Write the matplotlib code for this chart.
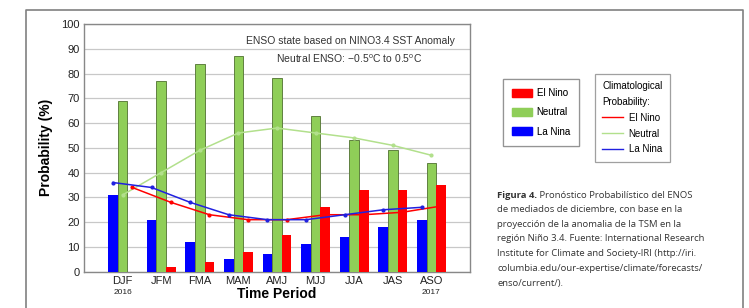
import numpy as np
import matplotlib
matplotlib.use("Agg")
import matplotlib.pyplot as plt
from matplotlib.patches import Patch
from matplotlib.lines import Line2D

plt.rcParams['font.family'] = ['Liberation Sans', 'DejaVu Sans']
plt.rcParams['mathtext.fontset'] = 'custom'
plt.rcParams['mathtext.rm'] = 'Liberation Sans'

# data
periods = ['DJF', 'JFM', 'FMA', 'MAM', 'AMJ', 'MJJ', 'JJA', 'JAS', 'ASO']
la_nina = [31, 21, 12, 5, 7, 11, 14, 18, 21]
neutral = [69, 77, 84, 87, 78, 63, 53, 49, 44]
el_nino = [0, 2, 4, 8, 15, 26, 33, 33, 35]

clim_la_nina = [36, 34, 28, 23, 21, 21, 23, 25, 26]
clim_neutral = [31, 40, 49, 56, 58, 56, 54, 51, 47]
clim_el_nino = [34, 28, 23, 21, 21, 23, 23, 24, 26.5]

caption_rest = ("de mediados de diciembre, con base en la\n"
                "proyección de la anomalia de la TSM en la\n"
                "región Niño 3.4. Fuente: International Research\n"
                "Institute for Climate and Society-IRI (http://iri.\n"
                "columbia.edu/our-expertise/climate/forecasts/\n"
                "enso/current/).")

red = '#ff0000'
green = '#8fce58'
blue = '#0000ff'

fig = plt.figure(figsize=(7.49, 3.08), dpi=100)
ax = fig.add_axes([84 / 749, 1 - 271.7 / 308, 386 / 749, 247.7 / 308])

x = np.arange(len(periods))
w = 0.25
ax.bar(x - w, la_nina, w, color=blue, zorder=3)
ax.bar(x, neutral, w, color=green, edgecolor='#5f8040', linewidth=0.7, zorder=3)
ax.bar(x + w, el_nino, w, color=red, zorder=3)

ax.plot(x, clim_neutral, color='#b2e08c', lw=1.1, marker='o', ms=2, zorder=4)
ax.plot(x + w, clim_el_nino, color=red, lw=1.1, marker='o', ms=2, zorder=5)
ax.plot(x - w, clim_la_nina, color='#2020e0', lw=1.1, marker='o', ms=2, zorder=5)

ax.set_xlim(-1, 9)
ax.set_ylim(0, 100)
ax.set_yticks(range(0, 101, 10))
ax.set_xticks(x)
ax.set_xticklabels(periods, fontsize=8, color='#222222')
ax.tick_params(axis='both', length=0, pad=3, labelsize=8, labelcolor='#222222')
ax.yaxis.grid(True, color='#c8c8c8', lw=0.9, zorder=0)
for s in ax.spines.values():
    s.set_color('#888888')
    s.set_linewidth(1)

ax.set_ylabel('Probability (%)', fontsize=10, fontweight='bold', labelpad=6)
ax.set_xlabel('Time Period', fontsize=10, fontweight='bold', labelpad=1)

tr = ax.get_xaxis_transform()
ax.text(0, -0.083, '2016', transform=tr, ha='center', va='center', fontsize=6, color='#222222')
ax.text(8, -0.083, '2017', transform=tr, ha='center', va='center', fontsize=6, color='#222222')

ax.text(0.961, 0.931, 'ENSO state based on NINO3.4 SST Anomaly', transform=ax.transAxes,
        ha='right', va='center', fontsize=7.5, color='#333333')
ax.text(0.687, 0.859, r'Neutral ENSO: $-$0.5$^{\rm o}$C to 0.5$^{\rm o}$C',
        transform=ax.transAxes, ha='center', va='center', fontsize=7.5, color='#333333')

# legends
h1 = [Patch(color=red), Patch(color=green), Patch(color=blue)]
leg1 = fig.legend(h1, ['El Nino', 'Neutral', 'La Nina'], loc='upper left',
                  bbox_to_anchor=(503 / 749, 1 - 79 / 308), borderaxespad=0, fontsize=7,
                  frameon=True, fancybox=False, edgecolor='#888888', handlelength=2.0,
                  handleheight=0.9, labelspacing=0.95, borderpad=0.95, handletextpad=0.5)
leg1.get_frame().set_linewidth(0.9)

h2 = [Line2D([], [], color=red, lw=1), Line2D([], [], color='#b2e08c', lw=1),
      Line2D([], [], color='#2020e0', lw=1)]
leg2 = fig.legend(h2, ['El Nino', 'Neutral', 'La Nina'], loc='upper left',
                  bbox_to_anchor=(595 / 749, 1 - 74 / 308), borderaxespad=0, fontsize=7,
                  frameon=True, fancybox=False, edgecolor='#888888', handlelength=2.1,
                  labelspacing=0.6, borderpad=0.75, handletextpad=0.6,
                  title='Climatological\nProbability:', title_fontsize=7, alignment='left')
leg2.get_title().set_linespacing(1.7)
leg2.get_frame().set_linewidth(0.9)
fig.add_artist(leg1)

# caption
cap = fig.text(497 / 749, 1 - 195 / 308, 'Figura 4.', fontsize=6.8, fontweight='bold',
               family='Open Sans', color='#333333', va='center')
plt.annotate(' Pronóstico Probabilístico del ENOS', xy=(1, 0), xycoords=cap,
             va='bottom', ha='left', fontsize=6.8, family='Open Sans', color='#333333',
             annotation_clip=False)
fig.text(497 / 749, 1 - 205 / 308, caption_rest, fontsize=6.8, family='Open Sans',
         color='#333333', va='top', ha='left', linespacing=1.82)

# outer frame
fig.add_artist(Line2D([26 / 749, 26 / 749, 743 / 749, 743 / 749], [0, 1 - 10 / 308, 1 - 10 / 308, 0],
                      transform=fig.transFigure, color='#808080', lw=1.2))

fig.savefig('out.png', dpi=100)
